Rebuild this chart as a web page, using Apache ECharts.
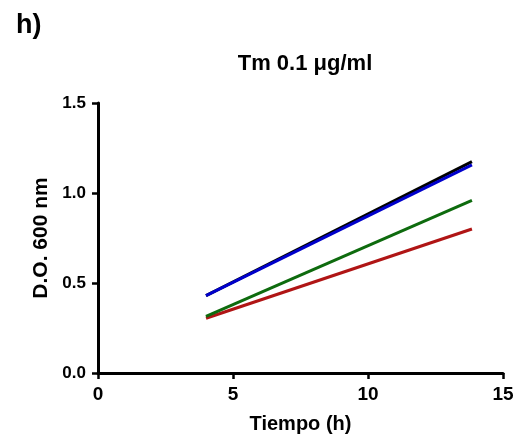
<!DOCTYPE html>
<html><head><meta charset="utf-8">
<script src="https://cdn.jsdelivr.net/npm/echarts@6/dist/echarts.min.js"></script>
<style>html,body{margin:0;padding:0;background:#fff}#c{width:518px;height:442px}</style>
</head><body><div id="c"></div>
<script>
const timeH = [4, 13.85];
const seriesNames = ['Black', 'Blue', 'Green', 'Red'];
const blackVals = [0.43, 1.174];
const blueVals = [0.43, 1.156];
const greenVals = [0.315, 0.959];
const redVals = [0.304, 0.80];
const xTicks = [0, 5, 10, 15];
const yTicks = [0.0, 0.5, 1.0, 1.5];
const colors = ['#000000', '#0000cc', '#0e6b0e', '#b01515'];
const allVals = [blackVals, blueVals, greenVals, redVals];

const chart = echarts.init(document.getElementById('c'));
const font = 'Liberation Sans, Arial, sans-serif';
chart.setOption({
  animation: false,
  title: [
    {text: 'h)', left: 11, top: 7, textStyle: {fontFamily: font, fontWeight: 'bold', fontSize: 27, color: '#000'}},
    {text: 'Tm 0.1 \u03bcg/ml', left: 300, top: 48, textAlign: 'center', textStyle: {fontFamily: font, fontWeight: 'bold', fontSize: 22, color: '#000'}}
  ],
  grid: {left: 98, right: 15, top: 103, bottom: 69},
  xAxis: {
    type: 'value', min: 0, max: 15, interval: 5,
    name: 'Tiempo (h)', nameLocation: 'middle', nameGap: 41,
    nameTextStyle: {fontFamily: font, fontWeight: 'bold', fontSize: 20, color: '#000'},
    axisLine: {lineStyle: {color: '#000', width: 3}},
    axisTick: {show: true, length: 6, lineStyle: {color: '#000', width: 2.5}},
    axisLabel: {fontFamily: font, fontWeight: 'bold', fontSize: 19, color: '#000', margin: 12,
      formatter: v => xTicks.includes(v) ? String(v) : ''},
    splitLine: {show: false}
  },
  yAxis: {
    type: 'value', min: 0, max: 1.5, interval: 0.5,
    name: 'D.O. 600 nm', nameLocation: 'middle', nameGap: 46,
    nameTextStyle: {fontFamily: font, fontWeight: 'bold', fontSize: 21, color: '#000'},
    axisLine: {show: true, lineStyle: {color: '#000', width: 3}},
    axisTick: {show: true, length: 6, lineStyle: {color: '#000', width: 2.5}},
    axisLabel: {fontFamily: font, fontWeight: 'bold', fontSize: 17, color: '#000', margin: 12,
      formatter: v => { const t = yTicks.find(x => Math.abs(x - v) < 1e-9); return t === undefined ? '' : t.toFixed(1); }},
    splitLine: {show: false}
  },
  series: [3, 2, 0, 1].map(i => ({
    name: seriesNames[i], type: 'line', symbol: 'none',
    data: timeH.map((t, k) => [t, allVals[i][k]]),
    lineStyle: {color: colors[i], width: 3},
    itemStyle: {color: colors[i]}
  }))
});
</script></body></html>
